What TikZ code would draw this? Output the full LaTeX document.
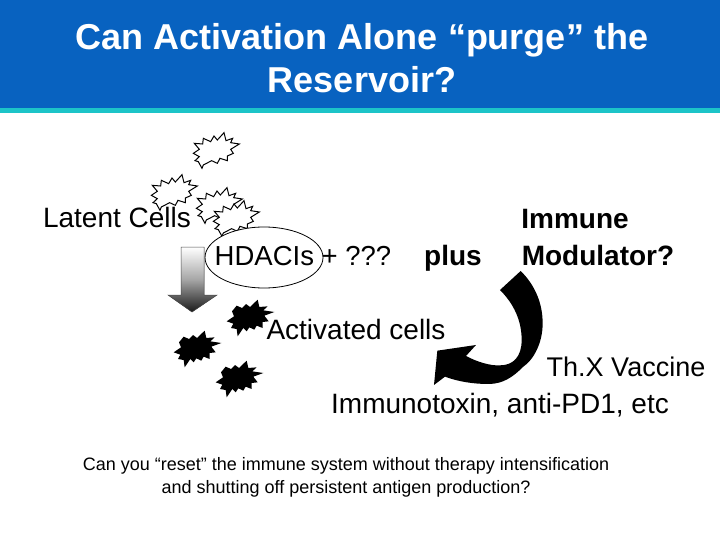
\documentclass[tikz,border=0pt]{standalone}
\usepackage{fontspec}
\setmainfont{Liberation Sans}
\definecolor{bandblue}{RGB}{8,98,192}
\definecolor{bandteal}{RGB}{28,196,200}
\tikzset{
  outstar/.pic={\draw[black,fill=white,line width=1pt,scale=1/3,shift={(-225,-90)}]
    (160,100)--(178,88)--(163,70)--(188,72)--(190,55)--(212,65)--(222,48)--(232,60)--(252,38)--(258,62)--(278,55)--(272,68)--(298,72)--(272,88)--(280,100)--(262,108)--(262,122)--(240,115)--(232,130)--(215,122)--(190,135)--(186,145)--(175,125)--(165,122)--(178,110)--cycle;},
  blackstar/.pic={\fill[black,scale=1/3,shift={(-112,-355)}]
    (42,365)--(64,350)--(58,335)--(72,318)--(88,325)--(100,313)--(112,322)--(135,300)--(140,322)--(165,320)--(152,332)--(185,337)--(155,348)--(168,365)--(150,367)--(150,385)--(132,378)--(125,390)--(110,383)--(102,395)--(92,385)--(75,410)--(72,388)--(55,385)--(62,372)--cycle;},
  body/.style={font=\fontsize{28}{33}\selectfont,inner sep=0pt,black,anchor=base},
  bodybold/.style={font=\fontsize{28}{33}\selectfont\bfseries,inner sep=0pt,black,anchor=base},
  titletext/.style={font=\fontsize{36}{43}\selectfont\bfseries,inner sep=0pt,white,anchor=base},
  small/.style={font=\fontsize{18}{22}\selectfont,inner sep=0pt,black,anchor=base}
}
\begin{document}
\begin{tikzpicture}[x=1pt,y=-1pt]
\useasboundingbox (0,0) rectangle (720,540);
\fill[white] (0,0) rectangle (720,540);
\fill[bandblue] (0,0) rectangle (720,108);
\fill[bandteal] (0,108) rectangle (720,113);
\node[titletext] (t1) at (362,50) {Can Activation Alone “purge” the};
\node[titletext] (t2) at (362,93) {Reservoir?};
\pic at (215,150) {outstar};
\pic at (173,192) {outstar};
\pic at (218,205) {outstar};
\pic at (235,218) {outstar};
\draw[black,line width=0.8pt,fill=white] (264,257.5) ellipse [x radius=59,y radius=30.5];
\node[body] (latent) at (117,227) {Latent Cells};
\node[body,font=\fontsize{27.5}{33}\selectfont] (hdac) at (303,265) {HDACIs + ???};
\node[bodybold] at (453,265) (plus) {plus};
\node[bodybold] at (575,229) (imm) {Immune};
\node[bodybold] at (598,265) (mod) {Modulator?};
\fill[top color=white,bottom color=black!90,middle color=black!35,draw=black!70,line width=0.5pt]
 (181,247)--(204,247)--(204,295)--(217,295)--(192,312)--(168,295)--(181,295)--cycle;
\pic at (250,318) {blackstar};
\pic at (197,349) {blackstar};
\pic at (239,379) {blackstar};
\node[body] (act) at (356,339) {Activated cells};
\fill[black,scale=1/3,shift={(1260,780)}]
 (302,33) .. controls (345,75) and (368,130) .. (368,190)
 .. controls (368,250) and (340,300) .. (310,320)
 .. controls (280,350) and (250,372) .. (205,372)
 .. controls (160,372) and (115,365) .. (75,350)
 -- (42,375) -- (52,272) -- (168,255) -- (138,288)
 .. controls (170,305) and (210,318) .. (240,316)
 .. controls (280,316) and (305,290) .. (305,240)
 .. controls (305,180) and (280,130) .. (240,90) -- cycle;
\node[body,font=\fontsize{27}{33}\selectfont] (thx) at (626,376) {Th.X Vaccine};
\node[body] (immtox) at (500,413) {Immunotoxin, anti-PD1, etc};
\node[small] (c1) at (346,470) {Can you “reset” the immune system without therapy intensification};
\node[small] (c2) at (346,493) {and shutting off persistent antigen production?};
\end{tikzpicture}
\end{document}
